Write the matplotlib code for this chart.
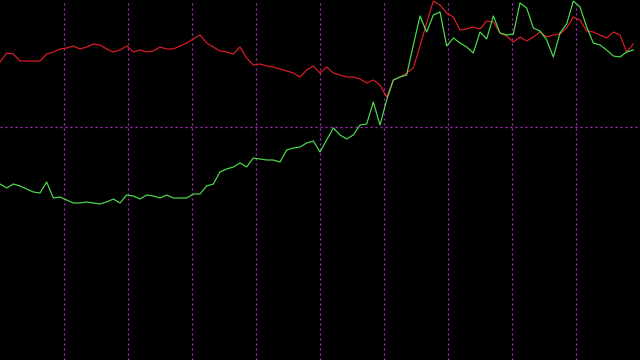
import numpy as np
import matplotlib
matplotlib.use("Agg")
import matplotlib.pyplot as plt

# values (height above the bottom edge, 0..360 scale)
red_series = [
    298, 307, 306, 299, 299, 299, 299, 306, 308, 311,
    312, 314, 311, 313, 316, 315, 311, 308, 310, 314,
    308, 310, 308, 309, 313, 311, 311, 314, 317, 321,
    325, 317, 313, 309, 308, 306, 313, 302, 295, 296,
    294, 293, 291, 289, 287, 283, 290, 294, 287, 293,
    287, 285, 283, 283, 281, 277, 280, 275, 263, 280,
    283, 287, 292, 314, 337, 359, 355, 347, 343, 330,
    331, 333, 331, 339, 338, 327, 324, 318, 323, 319,
    323, 328, 323, 325, 326, 332, 343, 340, 329, 328,
    325, 322, 328, 325, 308, 316,
]
green_series = [
    176, 172, 176, 174, 171, 168, 167, 178, 162, 163,
    160, 157, 157, 158, 157, 156, 158, 161, 157, 165,
    164, 161, 165, 164, 162, 165, 162, 162, 162, 166,
    166, 174, 176, 188, 191, 193, 197, 193, 202, 201,
    200, 200, 198, 210, 212, 213, 217, 219, 208, 220,
    232, 225, 221, 225, 235, 236, 258, 235, 260, 280,
    283, 285, 315, 344, 328, 345, 348, 314, 322, 317,
    313, 307, 328, 321, 344, 327, 325, 326, 357, 352,
    332, 329, 320, 303, 327, 336, 359, 353, 333, 317,
    315, 310, 304, 303, 308, 310,
]
ref_level = 233.3

x = np.arange(len(red_series))
n_cols = 10  # vertical grid every tenth of the width

fig = plt.figure(figsize=(6.4, 3.6), dpi=100, facecolor="black")
ax = fig.add_axes([0, 0, 1, 1])
ax.set_facecolor("black")

grid_kw = dict(color="#b42cc8", linewidth=0.9, dashes=(1.6, 2.4))
for k in range(1, n_cols):
    ax.axvline(len(x) * k / n_cols, **grid_kw)
ax.axhline(ref_level, **grid_kw)

ax.plot(x, red_series, color="#e01e28", linewidth=0.85)
ax.plot(x, green_series, color="#4ee04e", linewidth=0.85)

ax.set_xlim(0, len(x))
ax.set_ylim(0, 360)
ax.axis("off")

fig.savefig("out.png", dpi=100, facecolor="black")
plt.close(fig)
